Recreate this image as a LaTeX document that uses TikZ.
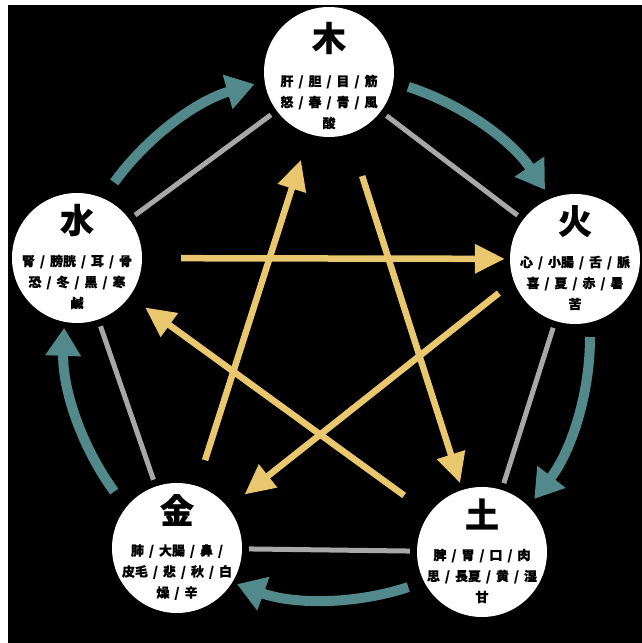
\documentclass[tikz,border=0pt]{standalone}
\usepackage{fontspec}
\setmainfont{Noto Sans CJK JP}[BoldFeatures={FakeBold=0.5}]
\usetikzlibrary{arrows.meta,calc}
\definecolor{shengTeal}{HTML}{528A8B}
\definecolor{keGold}{HTML}{E8C76F}
\definecolor{rimGray}{HTML}{A8A8A8}
\newcommand\wxsep{\hspace{5pt}/\hspace{5pt}}

\begin{document}
\begin{tikzpicture}[x=1pt,y=1pt]
      \tikzstyle{elem}=[circle,fill=white,minimum size=130pt,inner sep=0pt]
      \tikzstyle{bigch}=[font=\fontsize{34}{34}\selectfont\bfseries,inner sep=0pt]
      \tikzstyle{items}=[font=\fontsize{13}{21}\selectfont\bfseries,align=center,inner sep=0pt]
      \tikzstyle{sheng}=[draw=shengTeal,line width=10pt,-{Triangle[length=28pt,width=34pt]}]
      \tikzstyle{ke}=[draw=keGold,line width=6.5pt,-{Triangle[length=30pt,width=28pt]}]
      \tikzstyle{rim}=[draw=rimGray,line width=5pt,shorten <=7pt,shorten >=7pt]
      \useasboundingbox (0,0) rectangle (642,643);
      \fill[black] (8,0) rectangle (642,638);
      \coordinate (c) at (327,306);
      % the five phases
      \node[elem] (mu) at (329,571) {};
      \node[elem] (huo) at (575,384) {};
      \node[elem] (tu) at (482,91) {};
      \node[elem] (jin) at (177,95) {};
      \node[elem] (shui) at (77,385) {};
      \node[bigch] (mu-n) at ([yshift=34pt]mu.center) {木};
      \node[bigch] (huo-n) at ([yshift=38pt]huo.center) {火};
      \node[bigch] (tu-n) at ([yshift=38pt]tu.center) {土};
      \node[bigch] (jin-n) at ([yshift=38pt]jin.center) {金};
      \node[bigch] (shui-n) at ([yshift=38pt]shui.center) {水};
      \node[items] (mu-i) at ([yshift=-30pt]mu.center) {肝\wxsep 胆\wxsep 目\wxsep 筋\\怒\wxsep 春\wxsep 青\wxsep 風\\酸};
      \node[items] (huo-i) at ([yshift=-24pt]huo.center) {心\wxsep 小腸\wxsep 舌\wxsep 脈\\喜\wxsep 夏\wxsep 赤\wxsep 暑\\苦};
      \node[items] (tu-i) at ([yshift=-24pt]tu.center) {脾\wxsep 胃\wxsep 口\wxsep 肉\\思\wxsep 長夏\wxsep 黄\wxsep 湿\\甘};
      \node[items] (jin-i) at ([yshift=-24pt]jin.center) {肺\wxsep 大腸\wxsep 鼻\hspace{5pt}/\\皮毛\wxsep 悲\wxsep 秋\wxsep 白\\燥\wxsep 辛};
      \node[items] (shui-i) at ([yshift=-24pt]shui.center) {腎\wxsep 膀胱\wxsep 耳\wxsep 骨\\恐\wxsep 冬\wxsep 黒\wxsep 寒\\鹹};
      % outer ring
      \draw[rim] (mu) -- (huo);
      \draw[rim] (huo) -- (tu);
      \draw[rim] (tu) -- (jin);
      \draw[rim] (jin) -- (shui);
      \draw[rim] (shui) -- (mu);
      % generating cycle
      \foreach \s/\e in {72/34,0/-38,-72/-110,-144/-182,144/106}
        \draw[sheng] ($(c)+(\s:263)$) arc[start angle=\s,end angle=\e,radius=263];
      % controlling star
      \draw[ke,shorten <=44pt,shorten >=7pt] (mu) -- (tu);
      \draw[ke,shorten <=31pt,shorten >=19pt] (tu) -- (shui);
      \draw[ke,shorten <=39pt,shorten >=5pt] (shui) -- (huo);
      \draw[ke,shorten <=19pt,shorten >=21pt] (huo.200) -- (jin);
      \draw[ke,shorten <=27pt,shorten >=27pt] (jin) -- (mu);
    \end{tikzpicture}
\end{document}
